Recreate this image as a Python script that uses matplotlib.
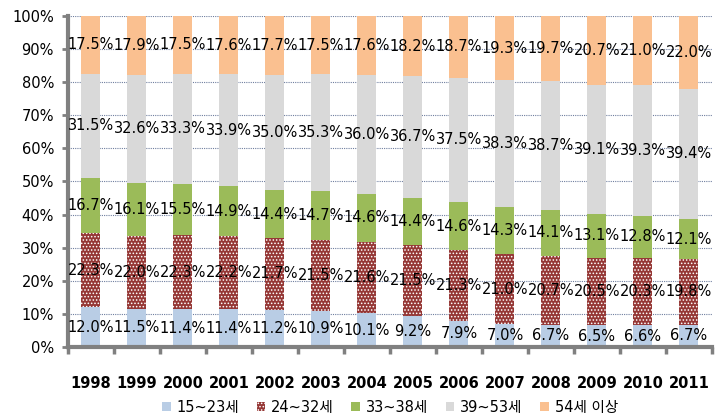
import numpy as np
import matplotlib
matplotlib.use("Agg")
import matplotlib.pyplot as plt

plt.rcParams['font.family'] = ['DejaVu Sans', 'Noto Sans CJK KR']
plt.rcParams['hatch.linewidth'] = 0.7

years = ['1998', '1999', '2000', '2001', '2002', '2003', '2004',
         '2005', '2006', '2007', '2008', '2009', '2010', '2011']
s15 = [12.0, 11.5, 11.4, 11.4, 11.2, 10.9, 10.1, 9.2, 7.9, 7.0, 6.7, 6.5, 6.6, 6.7]
s24 = [22.3, 22.0, 22.3, 22.2, 21.7, 21.5, 21.6, 21.5, 21.3, 21.0, 20.7, 20.5, 20.3, 19.8]
s33 = [16.7, 16.1, 15.5, 14.9, 14.4, 14.7, 14.6, 14.4, 14.6, 14.3, 14.1, 13.1, 12.8, 12.1]
s39 = [31.5, 32.6, 33.3, 33.9, 35.0, 35.3, 36.0, 36.7, 37.5, 38.3, 38.7, 39.1, 39.3, 39.4]
s54 = [17.5, 17.9, 17.5, 17.6, 17.7, 17.5, 17.6, 18.2, 18.7, 19.3, 19.7, 20.7, 21.0, 22.0]
names = ['15~23세', '24~32세', '33~38세', '39~53세', '54세 이상']
colors = ['#B9CDE5', '#953735', '#9BBB59', '#D9D9D9', '#FAC090']

series = [s15, s24, s33, s39, s54]
x = np.arange(len(years))

fig = plt.figure(figsize=(7.22, 4.19), dpi=100)
ax = fig.add_axes([0.094, 0.172, 0.892, 0.79])

bottom = np.zeros(len(years))
for i, s in enumerate(series):
    vals = np.array(s)
    if i == 1:
        ax.bar(x, vals, 0.41, bottom=bottom, facecolor=colors[i],
               edgecolor='white', hatch='.....', linewidth=0, label=names[i], zorder=2)
    else:
        ax.bar(x, vals, 0.41, bottom=bottom, color=colors[i],
               linewidth=0, label=names[i], zorder=2)
    for xi, b, v in zip(x, bottom, vals):
        ax.text(xi, b + v / 2, f'{v:.1f}%', ha='center', va='center',
                fontsize=10.5, color='black', zorder=3)
    bottom += vals

ax.set_xlim(-0.5, len(years) - 0.5)
ax.set_ylim(0, 100)
ax.set_yticks(np.arange(0, 101, 10))
ax.set_yticklabels([f'{v}%' for v in range(0, 101, 10)], fontsize=10.5)
ax.yaxis.grid(True, linestyle=(0, (1, 1)), color='#6F7F9F', linewidth=0.8, zorder=0)
ax.set_axisbelow(True)

ax.set_xticks(x)
ax.set_xticklabels(years, fontsize=10.5, fontweight='bold')
ax.set_xticks(np.arange(-0.5, len(years), 1), minor=True)
ax.tick_params(axis='x', which='major', length=0, pad=21)
ax.tick_params(axis='x', which='minor', length=5, width=2.5, color='#808080', direction='out')
ax.tick_params(axis='y', length=4, width=2, color='#808080', pad=6)

for sp in ['top', 'right']:
    ax.spines[sp].set_visible(False)
for sp in ['left', 'bottom']:
    ax.spines[sp].set_color('#808080')
    ax.spines[sp].set_linewidth(3)

fig.legend(*ax.get_legend_handles_labels(), loc='center', bbox_to_anchor=(0.54, 0.028),
           ncol=5, frameon=False, fontsize=10.5, handlelength=0.6, handleheight=0.6,
           columnspacing=1.2, handletextpad=0.4)

fig.savefig('out.png', dpi=100)
